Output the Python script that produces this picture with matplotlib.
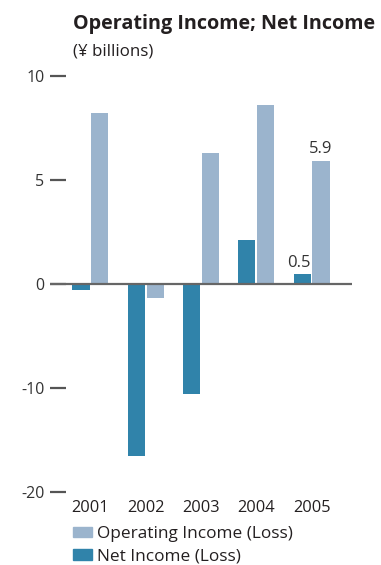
import numpy as np
import matplotlib
matplotlib.use("Agg")
import matplotlib.pyplot as plt
from matplotlib.patches import Patch

plt.rcParams["font.family"] = ["Open Sans", "DejaVu Sans"]

years = ["2001", "2002", "2003", "2004", "2005"]
operating_income = [8.2, -1.3, 6.3, 8.6, 5.9]
net_income = [-0.6, -16.5, -10.6, 2.1, 0.5]
y_ticks = [10, 5, 0, -10, -20]

OP_COLOR = "#9bb4cd"
NET_COLOR = "#3083aa"
TEXT = "#231f20"


# losses are drawn at half scale
def forward(y):
    y = np.asarray(y, dtype=float)
    return np.where(y >= 0, y, y / 2)


def inverse(y):
    y = np.asarray(y, dtype=float)
    return np.where(y >= 0, y, y * 2)


W, H = 381, 565
fig = plt.figure(figsize=(W / 100, H / 100), dpi=100)
ax = fig.add_axes([50 / W, (H - 492) / H, (352 - 50) / W, (492 - 76) / H])
ax.set_yscale("function", functions=(forward, inverse))

x = np.arange(len(years))
bw = 0.31
ax.bar(x - 0.17, net_income, bw, color=NET_COLOR, label="Net Income (Loss)")
ax.bar(x + 0.17, operating_income, bw, color=OP_COLOR, label="Operating Income (Loss)")
ax.axhline(0, color="#666666", lw=1.6, zorder=3)

ax.set_xlim(-0.73, 4.73)
ax.set_ylim(-20, 10)
ax.set_yticks(y_ticks)
ax.set_yticklabels([str(t) for t in y_ticks])
ax.set_xticks(x)
ax.set_xticklabels(years)
ax.tick_params(axis="y", direction="in", length=11.5, width=1.6, color="#555555",
               labelsize=11.5, labelcolor="#333333", pad=4)
ax.tick_params(axis="x", length=0, labelsize=11.8, labelcolor=TEXT, pad=6)
for s in ax.spines.values():
    s.set_visible(False)

# values called out on the 2005 bars
ax.text(x[-1] + 0.17, operating_income[-1] + 0.42, f"{operating_income[-1]}",
        ha="center", va="baseline", fontsize=12, color="#333333")
ax.text(x[-1] - 0.23, net_income[-1] + 0.34, f"{net_income[-1]}",
        ha="center", va="baseline", fontsize=12, color="#333333")

fig.text(73 / W, 1 - 29 / H, "Operating Income; Net Income", fontsize=14.2,
         fontweight="bold", color=TEXT, va="baseline")
fig.text(73 / W, 1 - 56 / H, "(¥ billions)", fontsize=12.2, color=TEXT, va="baseline")

handles = [Patch(color=OP_COLOR, label="Operating Income (Loss)"),
           Patch(color=NET_COLOR, label="Net Income (Loss)")]
fig.legend(handles=handles, loc="upper left", bbox_to_anchor=(73 / W, 1 - 526 / H),
           frameon=False, fontsize=12.4, handlelength=1.1, handleheight=0.58,
           handletextpad=0.3, labelspacing=0.38, borderpad=0, borderaxespad=0,
           labelcolor=TEXT)

fig.savefig("out.png", dpi=100, facecolor="white")
